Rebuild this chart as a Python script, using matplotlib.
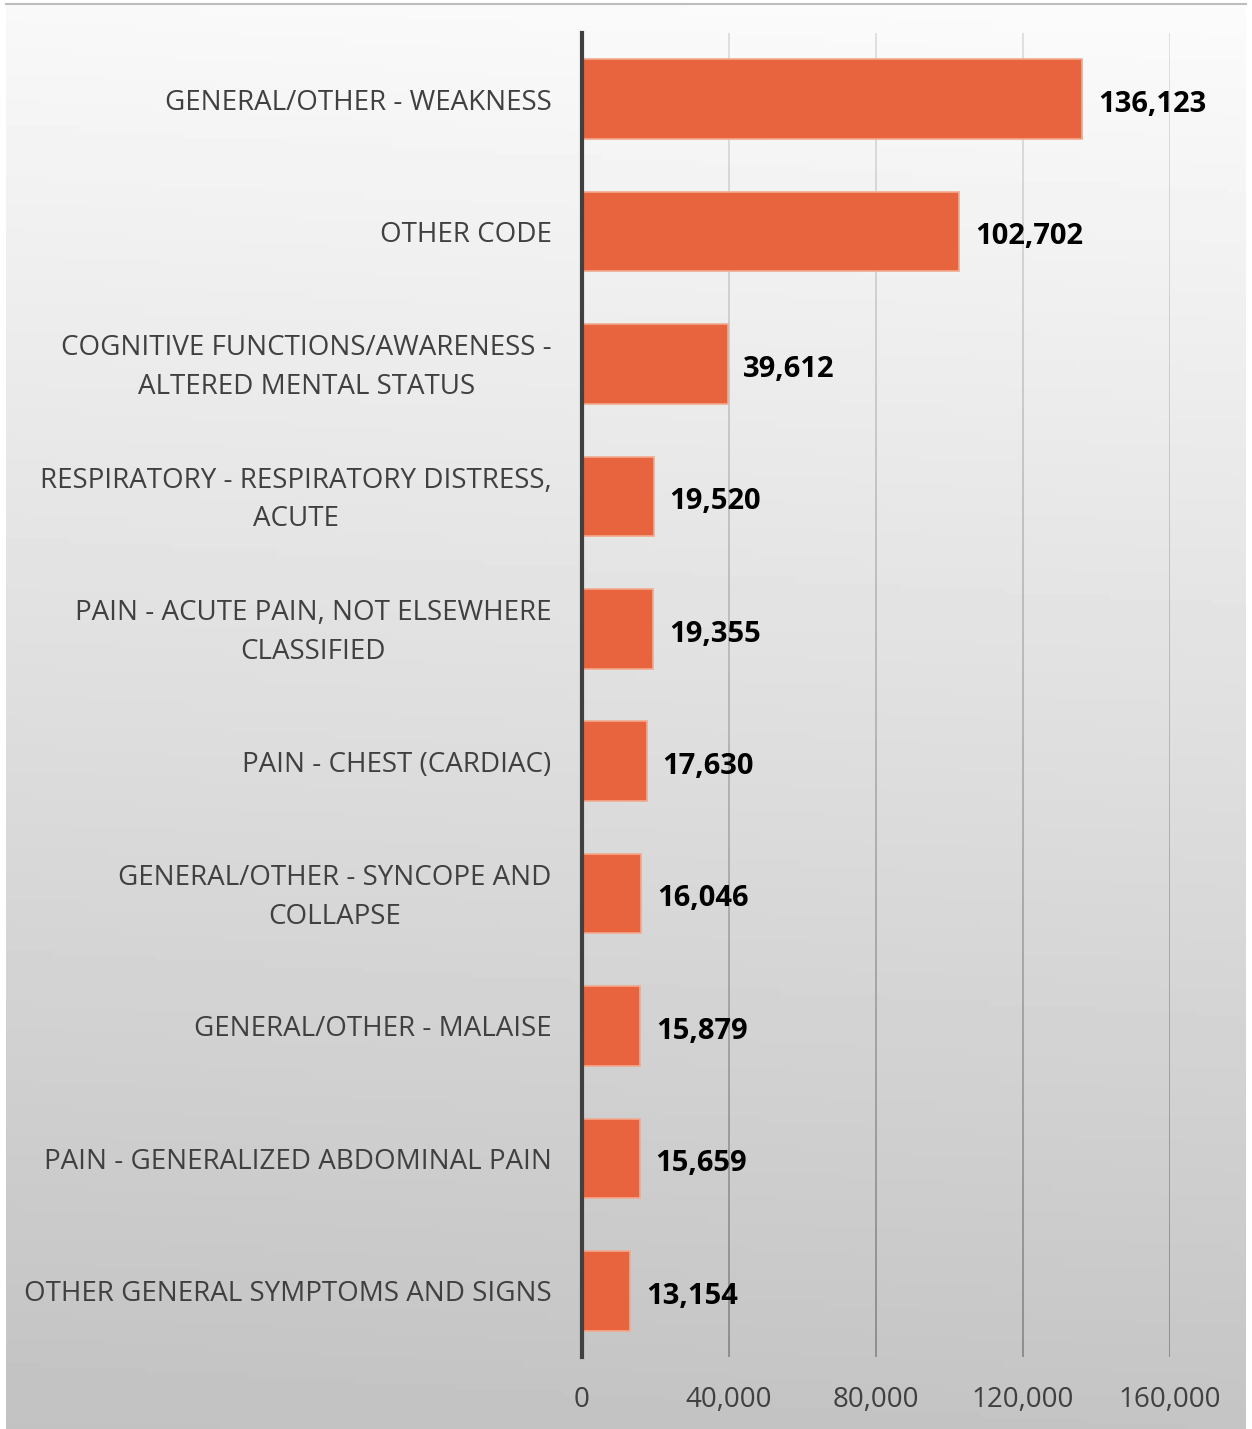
import numpy as np
import matplotlib.pyplot as plt
import matplotlib.transforms as mtransforms
from matplotlib.collections import LineCollection

categories = [
    "GENERAL/OTHER - WEAKNESS",
    "OTHER CODE",
    "COGNITIVE FUNCTIONS/AWARENESS -\nALTERED MENTAL STATUS",
    "RESPIRATORY - RESPIRATORY DISTRESS,\nACUTE",
    "PAIN - ACUTE PAIN, NOT ELSEWHERE\nCLASSIFIED",
    "PAIN - CHEST (CARDIAC)",
    "GENERAL/OTHER - SYNCOPE AND\nCOLLAPSE",
    "GENERAL/OTHER - MALAISE",
    "PAIN - GENERALIZED ABDOMINAL PAIN",
    "OTHER GENERAL SYMPTOMS AND SIGNS",
]
values = [136123, 102702, 39612, 19520, 19355, 17630, 16046, 15879, 15659, 13154]
xticks = [0, 40000, 80000, 120000, 160000]

W, H = 1252, 1429
fig = plt.figure(figsize=(W / 100, H / 100), dpi=100)
fig.patch.set_facecolor("white")

# gradient background panel
bg = fig.add_axes([6 / W, 0, 1 - 12 / W, 1 - 4 / H], zorder=0)
grad = np.linspace(0, 1, 256)[:, None]
gx = np.linspace(0, 1, 256)[None, :]
img = 0.975 - 0.215 * grad + 0.01 * gx
bg.imshow(img, cmap="gray", vmin=0, vmax=1, aspect="auto", extent=[0, 1, 1, 0])
bg.set_xticks([])
bg.set_yticks([])
for s in ["left", "right", "bottom"]:
    bg.spines[s].set_visible(False)
bg.spines["top"].set_color("#bdbdbd")
bg.spines["top"].set_linewidth(1.5)

ax = fig.add_axes([582 / W, 1 - 1357 / H, (1170 - 582) / W, (1357 - 33) / H], zorder=1)
ax.patch.set_alpha(0)

y = np.arange(len(categories))
ax.barh(y, values, height=0.6, color="#E8643F", edgecolor="#F2A98E", linewidth=1.2, zorder=3)

ax.set_xlim(0, 160000)
ax.set_ylim(len(categories) - 0.5, -0.5)

# gridlines with fading colour (light at top, darker at bottom)
segs, cols = [], []
n = 60
yy = np.linspace(-0.5, len(categories) - 0.5, n + 1)
for xv in xticks[1:]:
    for i in range(n):
        segs.append([(xv, yy[i]), (xv, yy[i + 1])])
        t = (i + 0.5) / n
        c = 0.87 - 0.33 * t
        cols.append((c, c, c))
ax.add_collection(LineCollection(segs, colors=cols, linewidths=1.3, zorder=1))

ax.set_xticks(xticks)
ax.set_xticklabels([f"{v:,}" for v in xticks])
ax.set_yticks(y)
ax.set_yticklabels(categories, multialignment="center")
ax.tick_params(axis="both", length=0, labelcolor="#404040", labelsize=20)
ax.tick_params(axis="y", pad=22)
ax.tick_params(axis="x", pad=21)
for lab in ax.get_xticklabels() + ax.get_yticklabels():
    lab.set_family("Open Sans")
    lab.set_linespacing(1.5)
# nudge two-line labels up a little
shift = mtransforms.ScaledTranslation(0, 5 / 100, fig.dpi_scale_trans)
for lab in ax.get_yticklabels():
    if "\n" in lab.get_text():
        lab.set_transform(lab.get_transform() + shift)

for s in ["top", "right", "bottom"]:
    ax.spines[s].set_visible(False)
ax.spines["left"].set_color("#404040")
ax.spines["left"].set_linewidth(3)
ax.spines["left"].set_zorder(4)

for yi, v in zip(y, values):
    ax.text(v + 4300, yi + 0.04, f"{v:,}", va="center", ha="left", fontsize=21,
            fontweight="bold", family="Open Sans", color="black", zorder=5)

fig.savefig("out.png", dpi=100)
